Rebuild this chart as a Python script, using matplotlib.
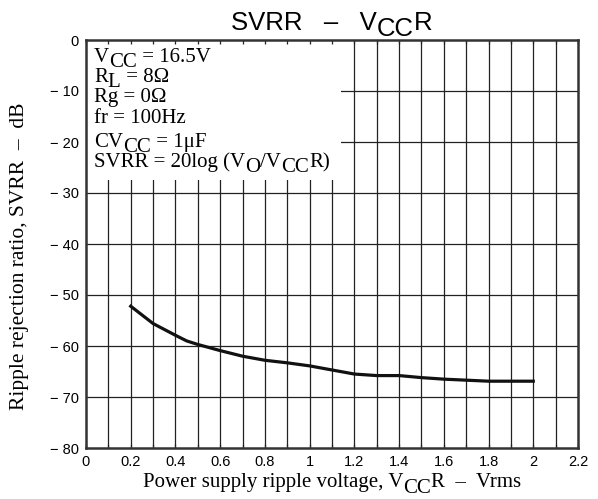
import numpy as np
import matplotlib
matplotlib.use("Agg")
from matplotlib import pyplot as plt
from matplotlib.patches import Rectangle

# ripple voltage (Vrms) and SVRR (dB)
vccr = [0.2, 0.3, 0.4, 0.45, 0.5, 0.6, 0.7, 0.8, 0.9, 1.0, 1.1, 1.2, 1.3, 1.4, 1.5, 1.6, 1.7, 1.8, 1.9, 2.0]
svrr = [-52.2, -55.6, -57.9, -59.0, -59.7, -60.9, -62.0, -62.8, -63.3, -63.9, -64.7, -65.5, -65.8, -65.8, -66.2, -66.5, -66.7, -66.9, -66.9, -66.9]

xticks = [0, 0.2, 0.4, 0.6, 0.8, 1, 1.2, 1.4, 1.6, 1.8, 2, 2.2]
xgrid = np.arange(1, 22) / 10
yticks = [0, -10, -20, -30, -40, -50, -60, -70, -80]

# (text, is_subscript) pieces, datasheet style: subscripts full size, just lowered
conditions = [
    [("V", 0), ("CC", 1), (" = 16.5V", 0)],
    [("R", 0), ("L", 1), (" = 8Ω", 0)],
    [("Rg = 0Ω", 0)],
    [("fr = 100Hz", 0)],
    [("CV", 0), ("CC", 1), (" = 1μF", 0)],
    [("SVRR = 20log (V", 0), ("O", 1), ("/V", 0), ("CC", 1), ("R)", 0)],
]
cond_baselines = [62, 82, 102, 123, 147, 167]  # px from top

W, H = 598, 499
fig = plt.figure(figsize=(5.98, 4.99), dpi=100)
ax = fig.add_axes([86 / W, 1 - 448 / H, 492 / W, 408 / H])
renderer = fig.canvas.get_renderer()


def rich_text(x, y, pieces, size, family, drop, ha="left", zorder=5):
    # x, y in pixels from top-left; lays out pieces one after another
    texts = []
    dx = 0
    for s, sub in pieces:
        t = fig.text(0, 0, s, fontsize=size, family=family, va="baseline", ha="left", zorder=zorder)
        t0 = fig.text(0, 0, "|" + s + "|", fontsize=size, family=family)
        bar = fig.text(0, 0, "||", fontsize=size, family=family)
        w = t0.get_window_extent(renderer).width - bar.get_window_extent(renderer).width
        t0.remove()
        bar.remove()
        texts.append((t, dx, sub))
        dx += w
    x0 = x - dx / 2 if ha == "center" else x
    for t, off, sub in texts:
        t.set_position(((x0 + off) / W, 1 - (y + (drop if sub else 0)) / H))
    return texts


ax.set_xlim(0, 2.2)
ax.set_ylim(-80, 0)

# grid lines drawn by hand so the white condition box can sit over them
ax.vlines(xgrid, -80, 0, colors="#222222", linewidth=0.9, zorder=1)
ax.hlines(yticks[1:-1], 0, 2.2, colors="#222222", linewidth=0.9, zorder=1)
ax.add_patch(Rectangle((0, -27.5), 1.14, 27.5, facecolor="white", edgecolor="none", zorder=1.5))

ax.plot(vccr, svrr, color="#111111", linewidth=2.3, zorder=3)

ax.set_xticks(xticks)
ax.set_xticklabels(["0" if v == 0 else ("%g" % v) for v in xticks])
ax.set_xticks(xgrid, minor=True)
ax.set_yticks(yticks)
ax.set_yticklabels(["0" if v == 0 else "\u2212 %d" % abs(v) for v in yticks])
ax.tick_params(axis="x", which="both", direction="in", top=True, length=3, width=0.9,
               color="#222222", pad=5)
ax.tick_params(axis="y", length=0, pad=5)
for lab in ax.get_xticklabels() + ax.get_yticklabels():
    lab.set_fontfamily("Liberation Sans")
    lab.set_fontsize(10.5)

for s in ax.spines.values():
    s.set_linewidth(1.8)
    s.set_color("#333333")
    s.set_zorder(4)

for pieces, yb in zip(conditions, cond_baselines):
    rich_text(94, yb, pieces, 15, "Liberation Serif", 5)

rich_text(332, 30, [("SVRR   –   V", 0), ("CC", 1), ("R", 0)], 18.5, "Liberation Sans", 6, ha="center")
rich_text(332, 487, [("Power supply ripple voltage, V", 0), ("CC", 1), ("R  –  Vrms", 0)],
          15, "Liberation Serif", 6, ha="center")
fig.text(20 / W, 1 - 256 / H, "Ripple rejection ratio, SVRR  –  dB", fontsize=15.5,
         family="Liberation Serif", rotation=90, ha="center", va="center")

fig.savefig("out.png", dpi=100)
